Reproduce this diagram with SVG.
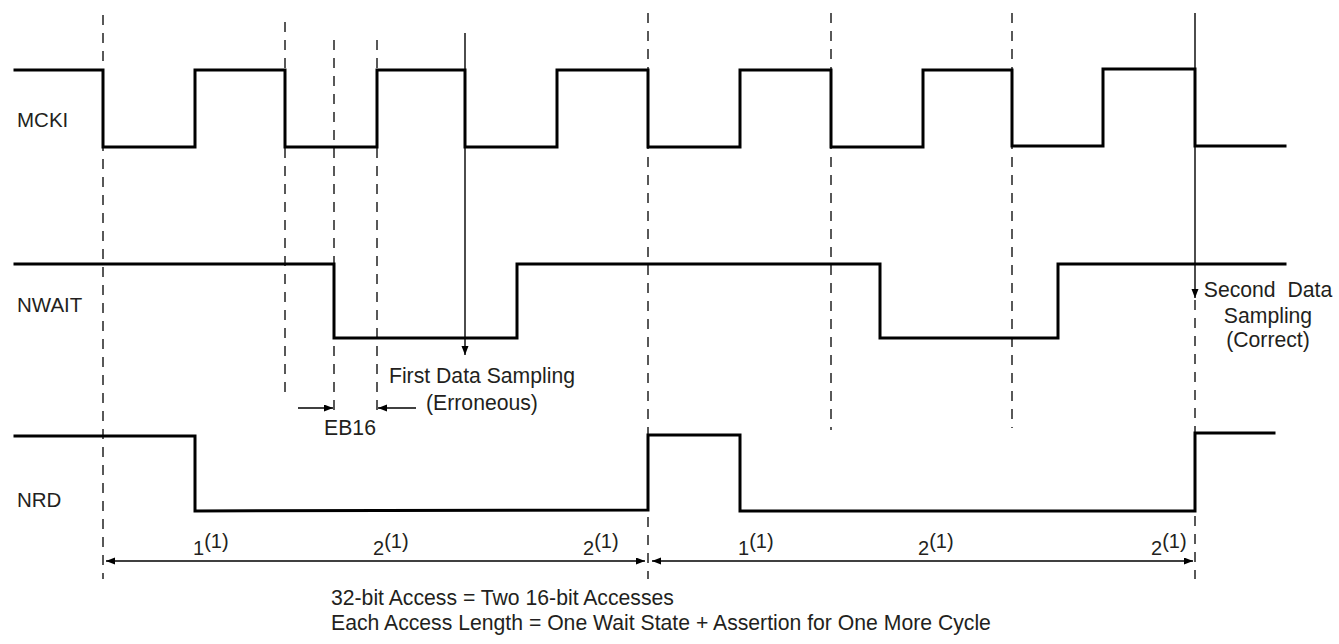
<svg xmlns="http://www.w3.org/2000/svg" width="1339" height="644" viewBox="0 0 1339 644">
<style>
  .sig { fill: none; stroke: #000; stroke-width: 3; stroke-linejoin: miter; stroke-linecap: square; }
  .dash { fill: none; stroke: #222; stroke-width: 1.5; stroke-dasharray: 10 8; }
  .ln { fill: none; stroke: #000; stroke-width: 1.4; }
  text { font-family: "Liberation Sans", Arial, sans-serif; font-size: 21.2px; fill: #231f20; }
  .name { font-size: 20.5px; }
  .dim { font-size: 20px; }
  .mid { text-anchor: middle; }
</style>
<defs>
  <marker id="ah" markerUnits="userSpaceOnUse" markerWidth="10" markerHeight="8" refX="9" refY="3.5" orient="auto-start-reverse">
    <path d="M0,0 L9,3.5 L0,7 z" fill="#000"/>
  </marker>
</defs>
<rect width="1339" height="644" fill="#fff"/>

<g id="guides">
  <line class="dash" x1="103" y1="15" x2="103" y2="579"/>
  <line class="dash" x1="285" y1="22" x2="285" y2="393"/>
  <line class="dash" x1="334" y1="40" x2="334" y2="413"/>
  <line class="dash" x1="377" y1="40" x2="377" y2="413"/>
  <line class="dash" x1="648" y1="13" x2="648" y2="579"/>
  <line class="dash" x1="831" y1="13" x2="831" y2="430"/>
  <line class="dash" x1="1012" y1="13" x2="1012" y2="428"/>
  <line class="dash" x1="1195" y1="300" x2="1195" y2="579"/>
</g>

<g id="mcki">
  <text class="name" x="17" y="127">MCKI</text>
  <path class="sig" d="M15,70 H103 V147 H195 V70 H285 V147 H377 V70 H465 V147 H557 V70 H648 V147 H740 V70 H831 V147 H923 V70 H1012 V146 H1103 V69 H1195 V146 H1285"/>
</g>

<g id="nwait">
  <text class="name" x="17" y="312">NWAIT</text>
  <path class="sig" d="M15,264 H334 V338 H517 V264 H880 V338 H1058 V264 H1285"/>
</g>

<g id="nrd">
  <text class="name" x="17" y="507">NRD</text>
  <path class="sig" d="M15,436 H195 V511 L648,510 V435 H740 V511 H1195 V433 H1274"/>
</g>

<g id="connectors">
  <line class="ln" x1="465" y1="33" x2="465" y2="355" marker-end="url(#ah)"/>
  <line class="ln" x1="1195" y1="13" x2="1195" y2="298" marker-end="url(#ah)"/>
  <line class="ln" x1="298" y1="408" x2="333" y2="408" marker-end="url(#ah)"/>
  <line class="ln" x1="416" y1="408" x2="378" y2="408" marker-end="url(#ah)"/>
  <line class="ln" x1="106" y1="561" x2="645" y2="561" marker-start="url(#ah)" marker-end="url(#ah)"/>
  <line class="ln" x1="652" y1="561" x2="1193" y2="561" marker-start="url(#ah)" marker-end="url(#ah)"/>
</g>

<g id="labels">
  <text class="mid" x="482" y="383">First Data Sampling</text>
  <text class="mid" x="482" y="410">(Erroneous)</text>
  <text class="mid" x="350" y="435">EB16</text>
  <text class="mid" x="1268" y="297" xml:space="preserve">Second  Data</text>
  <text class="mid" x="1268" y="323">Sampling</text>
  <text class="mid" x="1268" y="347">(Correct)</text>
  <text class="dim" x="193" y="555">1<tspan dy="-7">(1)</tspan></text>
  <text class="dim" x="373" y="555">2<tspan dy="-7">(1)</tspan></text>
  <text class="dim" x="583" y="555">2<tspan dy="-7">(1)</tspan></text>
  <text class="dim" x="738" y="555">1<tspan dy="-7">(1)</tspan></text>
  <text class="dim" x="918" y="555">2<tspan dy="-7">(1)</tspan></text>
  <text class="dim" x="1151" y="555">2<tspan dy="-7">(1)</tspan></text>
  <text x="331" y="605">32-bit Access = Two 16-bit Accesses</text>
  <text x="331" y="630">Each Access Length = One Wait State + Assertion for One More Cycle</text>
</g>
</svg>
